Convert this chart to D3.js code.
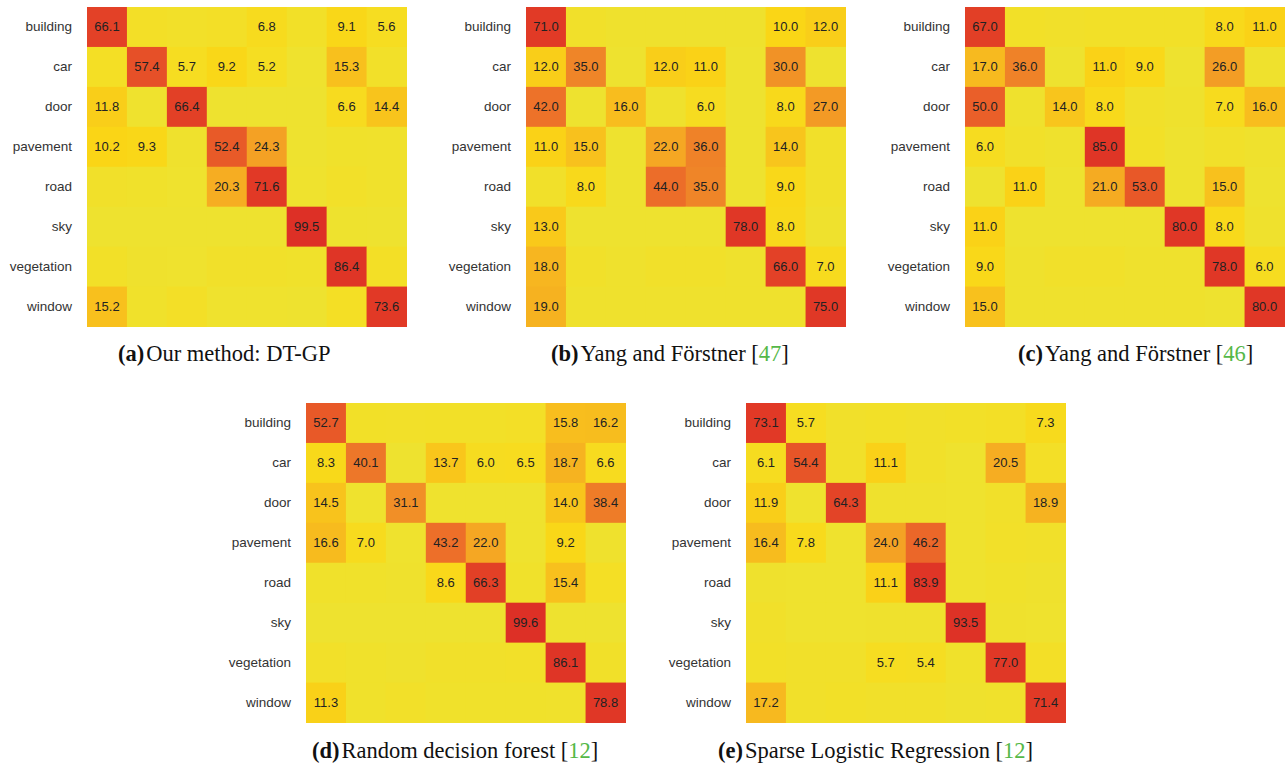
<!DOCTYPE html>
<html>
<head>
<meta charset="utf-8">
<script src="https://cdn.jsdelivr.net/npm/d3@7"></script>
<style>
  body { margin: 0; background: #fff; }
  svg { display: block; }
</style>
</head>
<body>
<svg id="chart" width="1285" height="766"></svg>
<script>
// ---- data ----
const categories = ["building", "car", "door", "pavement", "road", "sky", "vegetation", "window"];

// rows = true class, columns = predicted class (percent)
const matrixA = [
  [66.1, 3.5, 2.5, 3.5, 6.8, 2.9, 9.1, 5.6],
  [4.0, 57.4, 5.7, 9.2, 5.2, 0.5, 15.3, 2.7],
  [11.8, 0.5, 66.4, 0.2, 0.1, 0.0, 6.6, 14.4],
  [10.2, 9.3, 1.0, 52.4, 24.3, 0.2, 1.5, 1.1],
  [2.0, 1.5, 0.5, 20.3, 71.6, 0.5, 2.5, 1.1],
  [0.1, 0.0, 0.0, 0.0, 0.0, 99.5, 0.3, 0.1],
  [3.0, 1.0, 0.5, 2.0, 2.0, 1.5, 86.4, 3.6],
  [15.2, 1.5, 3.5, 0.5, 0.5, 0.2, 4.0, 73.6]
];
const matrixB = [
  [71, 2, 1, 1, 1, 1, 10, 12],
  [12, 35, 0, 12, 11, 0, 30, 0],
  [42, 0, 16, 1, 6, 0, 8, 27],
  [11, 15, 0, 22, 36, 0, 14, 2],
  [2, 8, 0, 44, 35, 0, 9, 2],
  [13, 0, 0, 0, 0, 78, 8, 1],
  [18, 2, 1, 2, 2, 1, 66, 7],
  [19, 1, 1, 1, 1, 1, 1, 75]
];
const matrixC = [
  [67, 3, 2, 3, 3, 3, 8, 11],
  [17, 36, 0, 11, 9, 0, 26, 1],
  [50, 1, 14, 8, 2, 1, 7, 16],
  [6, 2, 1, 85, 3, 0, 2, 1],
  [0, 11, 0, 21, 53, 0, 15, 0],
  [11, 0, 0, 0, 0, 80, 8, 1],
  [9, 1, 2, 2, 1, 1, 78, 6],
  [15, 1, 1, 1, 1, 1, 0, 80]
];
const matrixD = [
  [52.7, 3.0, 2.5, 3.0, 3.0, 3.5, 15.8, 16.2],
  [8.3, 40.1, 0.0, 13.7, 6.0, 6.5, 18.7, 6.6],
  [14.5, 0.5, 31.1, 0.5, 0.5, 0.5, 14.0, 38.4],
  [16.6, 7.0, 0.5, 43.2, 22.0, 0.5, 9.2, 1.0],
  [1.5, 1.5, 1.0, 8.6, 66.3, 1.5, 15.4, 4.0],
  [0.1, 0.0, 0.0, 0.0, 0.0, 99.6, 0.2, 0.1],
  [2.5, 1.5, 1.0, 2.0, 2.0, 2.5, 86.1, 2.4],
  [11.3, 1.5, 2.5, 1.5, 1.5, 1.5, 1.4, 78.8]
];
const matrixE = [
  [73.1, 5.7, 2.0, 3.0, 2.0, 3.0, 3.6, 7.3],
  [6.1, 54.4, 2.0, 11.1, 2.0, 0.4, 20.5, 3.5],
  [11.9, 0.5, 64.3, 1.0, 1.0, 0.4, 2.0, 18.9],
  [16.4, 7.8, 0.5, 24.0, 46.2, 0.5, 2.6, 2.0],
  [1.0, 0.5, 0.5, 11.1, 83.9, 0.5, 1.5, 1.0],
  [2.0, 0.5, 0.5, 1.0, 1.0, 93.5, 1.0, 0.5],
  [3.0, 2.0, 2.0, 5.7, 5.4, 1.5, 77.0, 3.4],
  [17.2, 2.0, 3.0, 2.0, 2.0, 1.0, 1.4, 71.4]
];

const captionTags = ["(a)", "(b)", "(c)", "(d)", "(e)"];
const captionTexts = ["Our method: DT-GP", "Yang and Förstner ", "Yang and Förstner ", "Random decision forest ", "Sparse Logistic Regression "];
const captionRefs = ["", "47", "46", "12", "12"];

// ---- layout ----
const panels = [
  { m: matrixA, x: 87,  y: 7,   cx: 118,  cy: 361 },
  { m: matrixB, x: 526, y: 7,   cx: 551,  cy: 361 },
  { m: matrixC, x: 965, y: 7,   cx: 1018, cy: 361 },
  { m: matrixD, x: 306, y: 403, cx: 312,  cy: 758 },
  { m: matrixE, x: 746, y: 403, cx: 718,  cy: 758 }
];
const size = 319.5;
const labelThreshold = 5;

const color = d3.scaleLinear()
  .domain([0, 5, 10, 15, 22, 35, 45, 55, 70, 100])
  .range(["#eee22f", "#f5de23", "#fad616", "#f8c11d", "#f5a723", "#ef8528", "#ec6a29", "#e75428", "#e13a26", "#dd3026"])
  .interpolate(d3.interpolateRgb)
  .clamp(true);

const svg = d3.select("#chart");

const x = d3.scaleBand().domain(categories).range([0, size]).padding(0);
const y = d3.scaleBand().domain(categories).range([0, size]).padding(0);

panels.forEach((p, pi) => {
  const g = svg.append("g").attr("transform", `translate(${p.x},${p.y})`);
  const cells = [];
  p.m.forEach((row, ri) => row.forEach((v, ci) => cells.push({ r: categories[ri], c: categories[ci], v })));

  g.selectAll("rect.cell").data(cells).enter().append("rect")
    .attr("class", "cell")
    .attr("x", d => x(d.c))
    .attr("y", d => y(d.r))
    .attr("width", x.bandwidth() + 0.5)
    .attr("height", y.bandwidth() + 0.5)
    .attr("fill", d => color(d.v));

  g.selectAll("text.val").data(cells.filter(d => d.v >= labelThreshold)).enter().append("text")
    .attr("class", "val")
    .attr("x", d => x(d.c) + x.bandwidth() / 2)
    .attr("y", d => y(d.r) + y.bandwidth() / 2)
    .attr("text-anchor", "middle")
    .attr("dominant-baseline", "central")
    .attr("font-family", "'Liberation Sans', Arial, sans-serif")
    .attr("font-size", 13)
    .attr("fill", "#222")
    .text(d => d.v.toFixed(1));

  // row labels via axis
  const axis = d3.axisLeft(y).tickSize(0).tickPadding(15);
  const ag = g.append("g").call(axis);
  ag.select(".domain").remove();
  ag.selectAll("text")
    .attr("font-family", "'Liberation Sans', Arial, sans-serif")
    .attr("font-size", 13.5)
    .attr("fill", "#333");

  // caption
  const t = svg.append("text")
    .attr("x", p.cx)
    .attr("y", p.cy)
    .attr("font-family", "'Liberation Serif', 'Times New Roman', serif")
    .attr("font-size", 22.5)
    .attr("fill", "#111");
  t.append("tspan").attr("font-weight", "bold").text(captionTags[pi]);
  t.append("tspan").attr("dx", 2).text(captionTexts[pi]);
  if (captionRefs[pi]) {
    t.append("tspan").text("[");
    t.append("tspan").attr("fill", "#55b848").text(captionRefs[pi]);
    t.append("tspan").text("]");
  }
});
</script>
</body>
</html>
